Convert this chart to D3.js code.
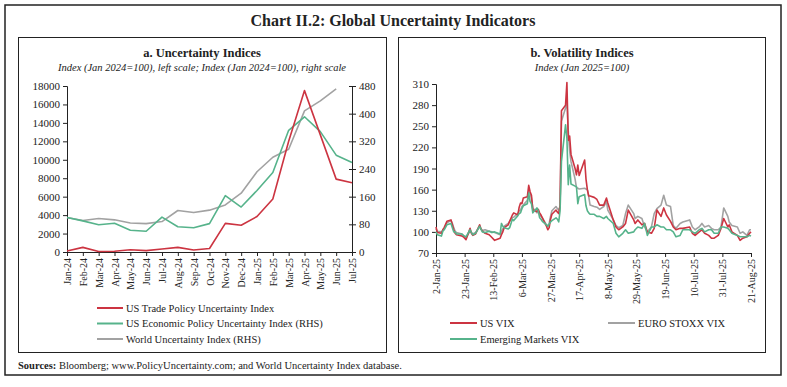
<!DOCTYPE html>
<html>
<head>
<meta charset="utf-8">
<title>Chart II.2: Global Uncertainty Indicators</title>
<script src="https://d3js.org/d3.v7.min.js"></script>
<style>
body { margin: 0; background: #fff; }
svg text { font-family: "Liberation Serif", "DejaVu Serif", serif; fill: #222; }
.frame { fill: none; stroke: #222; }
.axis path, .axis line { stroke: #222; stroke-width: 1; }
.axis text { font-size: 11px; }
.xaxis text { font-size: 10px; }
.series { fill: none; stroke-width: 1.6; stroke-linejoin: round; }
</style>
</head>
<body>
<script>
var width = 787, height = 387;

// panel a : monthly, Jan 2024 = 100
var months = ["Jan-24","Feb-24","Mar-24","Apr-24","May-24","Jun-24","Jul-24","Aug-24","Sep-24","Oct-24",
  "Nov-24","Dec-24","Jan-25","Feb-25","Mar-25","Apr-25","May-25","Jun-25","Jul-25"];
var tradePolicy = [100, 500, 60, 80, 250, 150, 320, 500, 210, 380, 3100, 2900, 3850, 5750, 12000, 17500, 12700, 7900, 7500];
var econPolicy  = [100, 90, 79, 83, 63, 60, 101, 73, 70, 82, 163, 130, 178, 230, 352, 391, 348, 280, 259];
var worldUnc    = [100, 91, 97, 93, 84, 82, 88, 120, 114, 121, 136, 170, 232, 274, 297, 408, 437, 472];
var leftTicks  = [0, 2000, 4000, 6000, 8000, 10000, 12000, 14000, 16000, 18000];
var rightTicks = [0, 80, 160, 240, 320, 400, 480];

// panel b : daily, Jan 2025 = 100
var vixDates = ["2025-01-02","2025-01-03","2025-01-06","2025-01-07","2025-01-08","2025-01-10","2025-01-13","2025-01-14",
  "2025-01-15","2025-01-16","2025-01-17","2025-01-21","2025-01-22","2025-01-23","2025-01-24","2025-01-27","2025-01-28",
  "2025-01-29","2025-01-31","2025-02-03","2025-02-04","2025-02-05","2025-02-07","2025-02-10","2025-02-12","2025-02-14",
  "2025-02-18","2025-02-19","2025-02-20","2025-02-21","2025-02-24","2025-02-25","2025-02-27","2025-02-28","2025-03-03",
  "2025-03-04","2025-03-05","2025-03-06","2025-03-07","2025-03-10","2025-03-11","2025-03-12","2025-03-13","2025-03-14",
  "2025-03-17","2025-03-18","2025-03-19","2025-03-20","2025-03-21","2025-03-24","2025-03-25","2025-03-26","2025-03-27",
  "2025-03-28","2025-03-31","2025-04-01","2025-04-02","2025-04-03","2025-04-04","2025-04-07","2025-04-08","2025-04-09",
  "2025-04-10","2025-04-11","2025-04-14","2025-04-15","2025-04-16","2025-04-17","2025-04-21","2025-04-22","2025-04-23",
  "2025-04-24","2025-04-25","2025-04-28","2025-04-30","2025-05-02","2025-05-05","2025-05-07","2025-05-08","2025-05-12",
  "2025-05-14","2025-05-16","2025-05-19","2025-05-21","2025-05-23","2025-05-27","2025-05-28","2025-05-30","2025-06-02",
  "2025-06-04","2025-06-06","2025-06-09","2025-06-11","2025-06-13","2025-06-16","2025-06-18","2025-06-20","2025-06-23",
  "2025-06-25","2025-06-27","2025-06-30","2025-07-02","2025-07-07","2025-07-09","2025-07-11","2025-07-14","2025-07-16",
  "2025-07-18","2025-07-21","2025-07-23","2025-07-25","2025-07-28","2025-07-30","2025-08-01","2025-08-04","2025-08-05",
  "2025-08-07","2025-08-11","2025-08-13","2025-08-15","2025-08-18","2025-08-20","2025-08-21"];
var usVix = [107,99,98,103,106,115,117,110,103,98,96,94,93,91,89,105,98,95,97,110,104,101,98,96,92,88,
  91,96,100,106,110,115,124,127,124,135,141,140,148,150,166,157,152,131,129,132,127,124,120,108,103,106,118,
  125,131,128,126,138,272,280,312,230,236,210,190,181,195,180,202,175,160,151,151,149,146,138,138,148,141,117,
  107,103,107,112,131,117,112,117,110,112,100,98,105,131,122,134,124,115,107,103,105,105,107,98,95,100,103,
  98,95,91,91,95,105,119,107,110,100,95,88,91,93,98,100];
var euroVix = [104,101,100,102,104,113,116,112,106,101,99,97,95,93,92,101,99,97,99,108,104,102,103,101,100,99,
  96,101,104,108,112,115,120,121,126,130,131,136,138,145,157,155,148,134,127,129,124,122,120,110,108,112,122,
  130,136,133,131,136,257,276,285,243,215,200,175,163,162,161,162,161,160,150,138,136,135,132,136,143,131,117,
  109,106,109,126,138,126,119,122,119,107,100,107,126,133,138,152,138,136,109,105,112,114,117,107,103,107,112,
  107,109,105,103,103,107,134,122,114,109,107,98,100,95,103,103];
var emVix = [100,96,94,101,103,110,112,106,100,100,97,97,95,94,93,103,99,96,98,108,104,100,99,101,99,100,
  97,112,108,106,104,106,118,116,123,126,127,133,137,140,155,143,140,127,134,130,120,118,115,110,108,111,114,
  116,120,118,114,130,200,252,233,167,195,168,165,164,140,150,153,137,130,127,125,125,122,122,119,122,119,112,
  98,93,98,103,98,100,103,107,105,112,95,107,107,110,107,107,103,103,100,93,95,103,103,100,98,103,105,
  100,103,103,98,98,107,107,105,103,98,95,93,93,93,95,94];
var vixTicks = [70, 100, 130, 160, 190, 220, 250, 280, 310];
var vixTickLabels = ["2-Jan-25","23-Jan-25","13-Feb-25","6-Mar-25","27-Mar-25","17-Apr-25","8-May-25",
  "29-May-25","19-Jun-25","10-Jul-25","31-Jul-25","21-Aug-25"];

var red = "#cc3441", green = "#56b38b", grey = "#a2a2a2";

var svg = d3.select("body").append("svg")
    .attr("width", width)
    .attr("height", height);

// frames
svg.append("rect").attr("class", "frame").attr("x", 5).attr("y", 5).attr("width", 776).attr("height", 370).attr("stroke-width", 1.5);
svg.append("rect").attr("class", "frame").attr("x", 18.5).attr("y", 37.5).attr("width", 368).attr("height", 315);
svg.append("rect").attr("class", "frame").attr("x", 398.5).attr("y", 37.5).attr("width", 367).attr("height", 315);

svg.append("text").attr("x", 393).attr("y", 26).attr("text-anchor", "middle")
    .style("font-size", "16px").style("font-weight", "bold")
    .text("Chart II.2: Global Uncertainty Indicators");

svg.append("text").attr("x", 18).attr("y", 369)
    .style("font-size", "10.5px")
    .call(function(t) {
      t.append("tspan").style("font-weight", "bold").text("Sources: ");
      t.append("tspan").text("Bloomberg; www.PolicyUncertainty.com; and World Uncertainty Index database.");
    });

// ---------- panel a ----------
svg.append("text").attr("x", 202).attr("y", 57).attr("text-anchor", "middle")
    .style("font-size", "12.5px").style("font-weight", "bold").text("a. Uncertainty Indices");
svg.append("text").attr("x", 202).attr("y", 71).attr("text-anchor", "middle")
    .style("font-size", "10.5px").style("font-style", "italic")
    .text("Index (Jan 2024=100), left scale; Index (Jan 2024=100), right scale");

var xa = d3.scalePoint().domain(months).range([67, 352]);
var yl = d3.scaleLinear().domain([0, 18000]).range([252, 86]);
var yr = d3.scaleLinear().domain([0, 480]).range([252, 86]);

svg.append("g").attr("class", "axis").attr("transform", "translate(67,0)")
    .call(d3.axisLeft(yl).tickValues(leftTicks).tickSize(4).tickFormat(d3.format("d")));
svg.append("g").attr("class", "axis").attr("transform", "translate(352,0)")
    .call(d3.axisRight(yr).tickValues(rightTicks).tickSize(4).tickFormat(d3.format("d")))
    .call(function(g) {
      g.selectAll(".tick line").attr("x1", -3);
    });
svg.append("g").attr("class", "axis xaxis").attr("transform", "translate(0,252)")
    .call(d3.axisBottom(xa).tickSize(4).tickSizeOuter(0))
    .selectAll("text")
      .attr("transform", "rotate(-90)")
      .attr("text-anchor", "end")
      .attr("x", -6).attr("y", 0).attr("dy", "0.35em");

var lineL = d3.line().x(function(d, i) { return xa(months[i]); }).y(function(d) { return yl(d); });
var lineR = d3.line().x(function(d, i) { return xa(months[i]); }).y(function(d) { return yr(d); });

svg.append("path").datum(worldUnc).attr("class", "series").attr("stroke", grey).attr("d", lineR);
svg.append("path").datum(econPolicy).attr("class", "series").attr("stroke", green).attr("d", lineR);
svg.append("path").datum(tradePolicy).attr("class", "series").attr("stroke", red).attr("d", lineL);

var legA = [["US Trade Policy Uncertainty Index", red],
            ["US Economic Policy Uncertainty Index (RHS)", green],
            ["World Uncertainty Index (RHS)", grey]];
legA.forEach(function(d, i) {
  var y = 308 + i * 15.5;
  svg.append("line").attr("x1", 97).attr("x2", 123).attr("y1", y).attr("y2", y)
      .attr("stroke", d[1]).attr("stroke-width", 2);
  svg.append("text").attr("x", 126).attr("y", y).attr("dy", "0.35em")
      .style("font-size", "10.5px").text(d[0]);
});

// ---------- panel b ----------
svg.append("text").attr("x", 582).attr("y", 57).attr("text-anchor", "middle")
    .style("font-size", "12.5px").style("font-weight", "bold").text("b. Volatility Indices");
svg.append("text").attr("x", 582).attr("y", 71).attr("text-anchor", "middle")
    .style("font-size", "10.5px").style("font-style", "italic").text("Index (Jan 2025=100)");

var parseDay = d3.timeParse("%Y-%m-%d");
var parseTick = d3.timeParse("%d-%b-%y");
var days = vixDates.map(parseDay);
var tickDates = vixTickLabels.map(parseTick);

var xb = d3.scaleTime().domain([tickDates[0], tickDates[tickDates.length - 1]]).range([436, 751]);
var yb = d3.scaleLinear().domain([70, 310]).range([253, 84]);

svg.append("g").attr("class", "axis").attr("transform", "translate(436,0)")
    .call(d3.axisLeft(yb).tickValues(vixTicks).tickSize(4));
svg.append("g").attr("class", "axis xaxis").attr("transform", "translate(0,253)")
    .call(d3.axisBottom(xb).tickValues(tickDates).tickSize(4).tickSizeOuter(0)
      .tickFormat(function(d, i) { return vixTickLabels[i]; }))
    .selectAll("text")
      .attr("transform", "rotate(-90)")
      .attr("text-anchor", "end")
      .attr("x", -6).attr("y", 0).attr("dy", "0.35em");

var lineB = d3.line().x(function(d, i) { return xb(days[i]); }).y(function(d) { return yb(d); });

svg.append("path").datum(euroVix).attr("class", "series").attr("stroke", grey).attr("d", lineB);
svg.append("path").datum(usVix).attr("class", "series").attr("stroke", red).attr("d", lineB);
svg.append("path").datum(emVix).attr("class", "series").attr("stroke", green).attr("d", lineB);

var legB = [["US VIX", red, 450, 323], ["EURO STOXX VIX", grey, 608, 323], ["Emerging Markets VIX", green, 450, 339]];
legB.forEach(function(d) {
  svg.append("line").attr("x1", d[2]).attr("x2", d[2] + 27).attr("y1", d[3]).attr("y2", d[3])
      .attr("stroke", d[1]).attr("stroke-width", 2);
  svg.append("text").attr("x", d[2] + 30).attr("y", d[3]).attr("dy", "0.35em")
      .style("font-size", "10.5px").text(d[0]);
});
</script>
</body>
</html>
